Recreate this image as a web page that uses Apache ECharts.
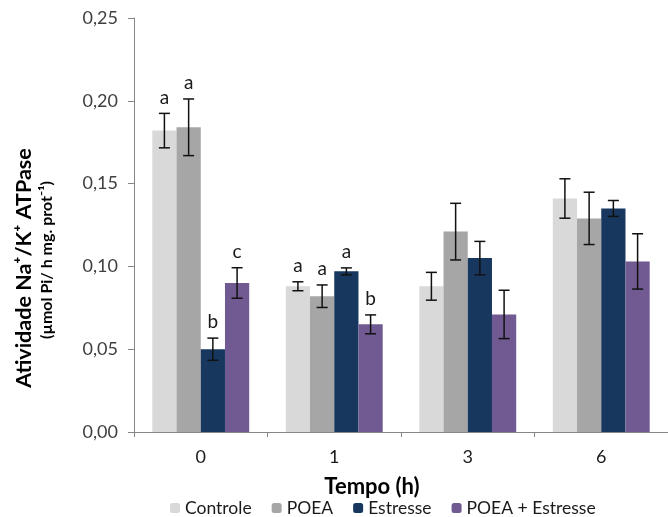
<!DOCTYPE html>
<html><head><meta charset="utf-8">
<script src="https://cdn.jsdelivr.net/npm/echarts@6/dist/echarts.min.js"></script>
<style>html,body{margin:0;padding:0;background:#fff}#c{width:668px;height:517px}</style>
</head><body><div id="c"></div>
<script>
var categories = ['0', '1', '3', '6'];
var seriesNames = ['Controle', 'POEA', 'Estresse', 'POEA + Estresse'];
var controle = [0.182, 0.088, 0.088, 0.141];
var poea = [0.184, 0.082, 0.121, 0.129];
var estresse = [0.050, 0.097, 0.105, 0.135];
var poeaEstresse = [0.090, 0.065, 0.071, 0.103];
var errControle = [0.0104, 0.0027, 0.0084, 0.0119];
var errPoea = [0.0171, 0.0068, 0.0171, 0.0158];
var errEstresse = [0.0067, 0.0021, 0.0101, 0.0048];
var errPoeaEstresse = [0.0092, 0.0057, 0.0146, 0.0167];
var lettersControle = ['a', 'a', '', ''];
var lettersPoea = ['a', 'a', '', ''];
var lettersEstresse = ['b', 'a', '', ''];
var lettersPoeaEstresse = ['c', 'b', '', ''];
var yTicks = [0, 0.05, 0.10, 0.15, 0.20, 0.25];

var colors = ['#D9D9D9', '#A6A6A6', '#17375E', '#715A91'];
var FONT = 'Lato, "Open Sans", sans-serif';
var means = [controle, poea, estresse, poeaEstresse];
var errs = [errControle, errPoea, errEstresse, errPoeaEstresse];
var letters = [lettersControle, lettersPoea, lettersEstresse, lettersPoeaEstresse];
var GAP = 0.274;

var errData = [];
for (var s = 0; s < 4; s++) {
  for (var c = 0; c < categories.length; c++) {
    errData.push([c, means[s][c], errs[s][c], s, letters[s][c]]);
  }
}

var series = [];
for (var s2 = 0; s2 < 4; s2++) {
  series.push({
    name: seriesNames[s2], type: 'bar', data: means[s2],
    barGap: '0%', barCategoryGap: (GAP * 100) + '%',
    itemStyle: { color: colors[s2] }
  });
}
series.push({
  type: 'custom', data: errData, z: 10, silent: true,
  renderItem: function (params, api) {
    var cat = api.value(0), m = api.value(1), e = api.value(2), si = api.value(3);
    var lt = errData[params.dataIndex][4];
    var bw = api.size([1, 0])[0];
    var barW = bw * (1 - GAP) / 4;
    var x = api.coord([cat, m])[0] + (si - 1.5) * barW;
    var yT = api.coord([cat, m + e])[1];
    var yB = api.coord([cat, m - e])[1];
    var cap = 5.5;
    var st = { stroke: '#111', lineWidth: 1.5 };
    var ch = [
      { type: 'line', shape: { x1: x, y1: yT, x2: x, y2: yB }, style: st },
      { type: 'line', shape: { x1: x - cap, y1: yT, x2: x + cap, y2: yT }, style: st },
      { type: 'line', shape: { x1: x - cap, y1: yB, x2: x + cap, y2: yB }, style: st }
    ];
    if (lt) {
      ch.push({ type: 'text', x: x, y: yT - 16, style: { text: lt, fontSize: 19, fontFamily: FONT, fill: '#1a1a1a', align: 'center', verticalAlign: 'middle' } });
    }
    return { type: 'group', children: ch };
  }
});

var chart = echarts.init(document.getElementById('c'));
chart.setOption({
  animation: false,
  color: colors,
  textStyle: { fontFamily: FONT },
  grid: { left: 134, top: 18, bottom: 85, right: -7 },
  legend: {
    data: seriesNames, left: 165, top: 494, itemWidth: 10, itemHeight: 10, itemGap: 20,
    textStyle: { fontSize: 17.5, color: '#1a1a1a', fontFamily: FONT }
  },
  xAxis: {
    type: 'category', data: categories,
    axisLine: { lineStyle: { color: '#868686', width: 1 } },
    axisTick: { show: true, length: 5, lineStyle: { color: '#868686' } },
    axisLabel: { color: '#1a1a1a', fontSize: 18, margin: 16, fontFamily: FONT }
  },
  yAxis: {
    type: 'value', min: 0, max: 0.25, interval: 0.05,
    splitLine: { show: false },
    axisLine: { show: true, lineStyle: { color: '#868686', width: 1 } },
    axisTick: { show: true, length: 6, lineStyle: { color: '#868686' } },
    axisLabel: { color: '#404040', fontSize: 18, margin: 16, fontFamily: FONT,
      formatter: function (v) { return v.toFixed(2).replace('.', ','); } }
  },
  graphic: [
    { type: 'text', x: 24, y: 268, rotation: Math.PI / 2,
      style: { text: 'Atividade Na⁺/K⁺ ATPase', fontSize: 21.5, fontWeight: 'bold', fontFamily: FONT, fill: '#000', align: 'center', verticalAlign: 'middle' } },
    { type: 'text', x: 47, y: 260, rotation: Math.PI / 2,
      style: { text: '(µmol Pi/ h mg. prot⁻¹)', fontSize: 16, fontWeight: 'bold', fontFamily: FONT, fill: '#000', align: 'center', verticalAlign: 'middle' } },
    { type: 'text', x: 372, y: 487,
      style: { text: 'Tempo (h)', fontSize: 22, fontWeight: 'bold', fontFamily: FONT, fill: '#000', align: 'center', verticalAlign: 'middle' } }
  ],
  series: series
});
</script></body></html>
